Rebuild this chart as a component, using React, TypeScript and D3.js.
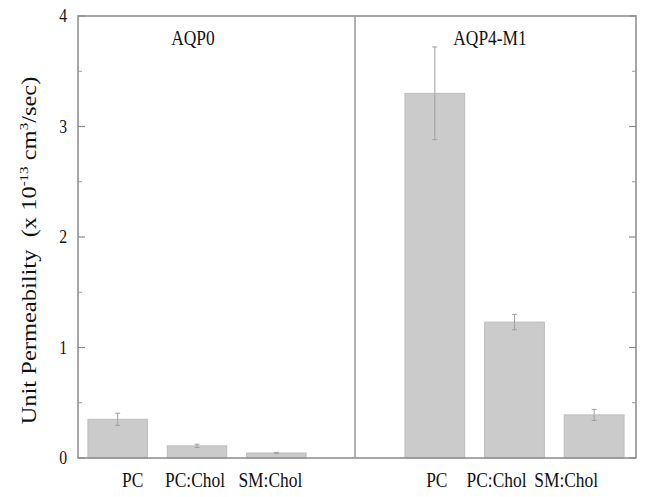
import React from 'react';
import * as d3 from 'd3';

// values (unit permeability, x 10^-13 cm^3/sec)
const groups = ['AQP0', 'AQP4-M1'];
const lipids = ['PC', 'PC:Chol', 'SM:Chol'];
const aqp0Values = [0.35, 0.11, 0.045];
const aqp0Errors = [0.055, 0.015, 0.006];
const aqp4Values = [3.3, 1.23, 0.39];
const aqp4Errors = [0.42, 0.07, 0.05];
const yTicks = [0, 1, 2, 3, 4];
const yMinorTicks = [0.5, 1.5, 2.5, 3.5];

const W = 645, H = 497;
const box = { left: 78, right: 636, top: 16, bottom: 458 };
const divider = 355;
const font = '"Liberation Serif", "Times New Roman", serif';
// labels in the original sit a little off the bar centres
const labelShift = [[15, -2, -6], [2, -18, -28]];
// the source image is squeezed horizontally, text included
const squeeze = 0.85;

export default function App() {
  const y = d3.scaleLinear().domain([0, 4]).range([box.bottom, box.top]);

  const panels = [
    { name: groups[0], values: aqp0Values, errors: aqp0Errors, range: [78, 316], titleX: 193 },
    { name: groups[1], values: aqp4Values, errors: aqp4Errors, range: [395, 634], titleX: 490 },
  ];

  return (
    <svg width={W} height={H} style={{ position: 'absolute', left: 0, top: 0, background: '#fff' }}
      fontFamily={font}>
      {panels.map((p, pi) => {
        const x = d3.scaleBand<string>().domain(lipids).range(p.range as [number, number])
          .paddingInner(0.25).paddingOuter(0.125);
        const bw = x.bandwidth();
        return (
          <g key={p.name}>
            {lipids.map((l, i) => {
              const cx = (x(l) as number) + bw / 2;
              const v = p.values[i], e = p.errors[i];
              return (
                <g key={l}>
                  <rect x={x(l)} y={y(v)} width={bw} height={y(0) - y(v)}
                    fill="#cbcbcb" stroke="#bdbdbd" strokeWidth={1} />
                  <line x1={cx} x2={cx} y1={y(v + e)} y2={y(v - e)} stroke="#a0a0a0" strokeWidth={1} />
                  <line x1={cx - 2.5} x2={cx + 2.5} y1={y(v + e)} y2={y(v + e)} stroke="#a0a0a0" strokeWidth={1} />
                  <line x1={cx - 2.5} x2={cx + 2.5} y1={y(v - e)} y2={y(v - e)} stroke="#a0a0a0" strokeWidth={1} />
                  <text transform={`translate(${cx + labelShift[pi][i]},487) scale(${squeeze},1)`}
                    fontSize={20.5} textAnchor="middle" fill="#111">{l}</text>
                </g>
              );
            })}
            <text transform={`translate(${p.titleX},45) scale(${squeeze},1)`}
              fontSize={20.5} textAnchor="middle" fill="#111">{p.name}</text>
          </g>
        );
      })}

      {/* frame */}
      <rect x={box.left} y={box.top} width={box.right - box.left} height={box.bottom - box.top}
        fill="none" stroke="#8a8a8a" strokeWidth={1.5} />
      <line x1={divider} x2={divider} y1={box.top} y2={box.bottom} stroke="#9a9a9a" strokeWidth={1.5} />

      {yTicks.map(t => (
        <g key={t}>
          <line x1={box.left} x2={box.left + 7} y1={y(t)} y2={y(t)} stroke="#8a8a8a" strokeWidth={1.2} />
          <line x1={box.right - 7} x2={box.right} y1={y(t)} y2={y(t)} stroke="#8a8a8a" strokeWidth={1.2} />
          <text transform={`translate(67,${y(t) + 6}) scale(${squeeze},1)`}
            fontSize={18.5} textAnchor="end" fill="#111">{t}</text>
        </g>
      ))}
      {yMinorTicks.map(t => (
        <g key={t}>
          <line x1={box.left} x2={box.left + 4} y1={y(t)} y2={y(t)} stroke="#9a9a9a" strokeWidth={1} />
          <line x1={box.right - 4} x2={box.right} y1={y(t)} y2={y(t)} stroke="#9a9a9a" strokeWidth={1} />
        </g>
      ))}

      <text transform={`translate(36,250.5) rotate(-90) scale(1,${squeeze})`} textAnchor="middle"
        fontSize={24.5} fill="#111">
        Unit Permeability {'\u00a0'}(x 10<tspan dy={-10} fontSize={15}>-13</tspan>
        <tspan dy={10}> cm</tspan><tspan dy={-10} fontSize={15}>3</tspan><tspan dy={10}>/sec)</tspan>
      </text>
    </svg>
  );
}
